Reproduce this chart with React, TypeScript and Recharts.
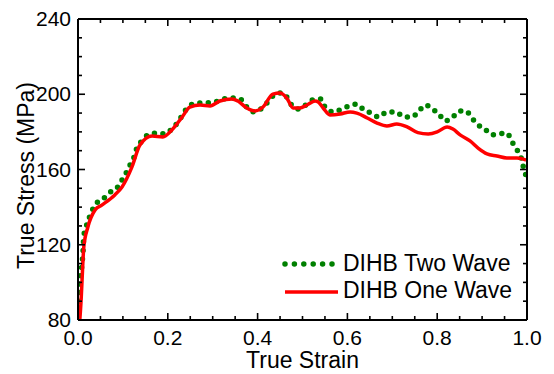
import { LineChart, Line, XAxis, YAxis, Legend } from "recharts";

// Curves (strain, MPa)
const oneWaveStrain = [
  0.004, 0.007, 0.009, 0.013, 0.022, 0.038, 0.053, 0.082, 0.098, 0.12, 0.138,
  0.165, 0.189, 0.209, 0.232, 0.249, 0.272, 0.294, 0.316, 0.343, 0.356, 0.376,
  0.394, 0.412, 0.434, 0.45, 0.465, 0.479, 0.494, 0.51, 0.528, 0.535, 0.546,
  0.561, 0.584, 0.606, 0.621, 0.644, 0.666, 0.688, 0.71, 0.733, 0.757, 0.78,
  0.8, 0.822, 0.835, 0.851, 0.873, 0.891, 0.911, 0.933, 0.955, 0.978, 0.998,
];
const oneWaveStress = [
  80, 91, 101, 119, 129.4, 138.5, 141.1, 146.5, 150.7, 161.3, 173, 177.8,
  177.3, 181, 187.9, 193.2, 194.3, 193.8, 196.4, 197.5, 196.4, 192.7, 191.1,
  193.2, 200.1, 200.7, 198, 192.7, 192.7, 194.3, 196.4, 195.9, 192.7, 189,
  189.5, 190.6, 190, 187.4, 184.7, 183.1, 184.2, 182.6, 179.6, 178.9, 180,
  182.6, 181.5, 178.4, 175.2, 171.4, 168.3, 167.2, 166.1, 166.1, 165,
];

const twoWaveStrain = [
  0.002, 0.004, 0.007, 0.009, 0.011, 0.013, 0.018, 0.024, 0.031, 0.04, 0.056,
  0.069, 0.087, 0.098, 0.107, 0.116, 0.125, 0.131, 0.14, 0.156, 0.176, 0.194,
  0.209, 0.223, 0.234, 0.245, 0.265, 0.285, 0.305, 0.323, 0.345, 0.361, 0.376,
  0.392, 0.41, 0.423, 0.437, 0.454, 0.468, 0.479, 0.492, 0.51, 0.523, 0.541,
  0.55, 0.568, 0.588, 0.604, 0.621, 0.637, 0.653, 0.67, 0.688, 0.708, 0.726,
  0.744, 0.759, 0.775, 0.788, 0.804, 0.817, 0.835, 0.849, 0.864, 0.877, 0.891,
  0.906, 0.922, 0.938, 0.955, 0.967, 0.978, 0.987, 0.992, 0.998,
];
const twoWaveStress = [
  90, 100.2, 105.5, 110.3, 115.6, 124.7, 129.4, 133.7, 137.9, 141.7, 144.3,
  147.5, 150.2, 154.4, 158.1, 162.4, 166.7, 171.4, 174.6, 178.4, 179.4, 178.9,
  181.5, 185.3, 189.5, 193.2, 195.4, 195.4, 195.9, 197.5, 198, 197.5, 193.2,
  190.6, 192.7, 195.9, 199.6, 200.7, 197.5, 193.2, 192.2, 194.8, 197, 197.5,
  193.2, 190.6, 192.2, 193.8, 194.8, 191.6, 190, 187.9, 190.6, 190.6, 187.9,
  187.9, 191.1, 194.3, 192.2, 189.5, 185.8, 187.9, 191.1, 191.1, 187.4, 183.7,
  181.5, 178.4, 178.9, 179.4, 174.6, 170.4, 166.1, 161.3, 156.6,
];

const xTicks = [
  0, 0.05, 0.1, 0.15, 0.2, 0.25, 0.3, 0.35, 0.4, 0.45, 0.5, 0.55, 0.6, 0.65,
  0.7, 0.75, 0.8, 0.85, 0.9, 0.95, 1.0,
];
const yTicks = [
  80, 90, 100, 110, 120, 130, 140, 150, 160, 170, 180, 190, 200, 210, 220, 230,
  240,
];

const oneWave = oneWaveStrain.map((x, i) => ({ x, y: oneWaveStress[i] }));
const twoWave = twoWaveStrain.map((x, i) => ({ x, y: twoWaveStress[i] }));

const FONT = "'Liberation Sans', Arial, sans-serif";
const GREEN = "#008000";
const RED = "#ff0000";

const isMajorX = (v: number) => Math.abs(v / 0.2 - Math.round(v / 0.2)) < 1e-6;
const isMajorY = (v: number) => v % 40 === 0;

// inward tick marks, labels only on the major ones
const BottomTick = (props: any) => {
  const x = Number(props.x);
  const y = Number(props.y);
  const v = props.payload.value;
  const major = isMajorX(v);
  return (
    <g>
      <line x1={x} x2={x} y1={y} y2={y - (major ? 7 : 4)} stroke="#000" strokeWidth={1.6} />
      {major && (
        <text x={x} y={y + 25} textAnchor="middle" fontSize={21} fontFamily={FONT} fill="#000">
          {v.toFixed(1)}
        </text>
      )}
    </g>
  );
};

const TopTick = (props: any) => {
  const x = Number(props.x);
  const y = Number(props.y);
  const major = isMajorX(props.payload.value);
  return <line x1={x} x2={x} y1={y} y2={y + (major ? 7 : 4)} stroke="#000" strokeWidth={1.6} />;
};

const LeftTick = (props: any) => {
  const x = Number(props.x);
  const y = Number(props.y);
  const v = props.payload.value;
  const major = isMajorY(v);
  return (
    <g>
      <line x1={x} x2={x + (major ? 7 : 4)} y1={y} y2={y} stroke="#000" strokeWidth={1.6} />
      {major && (
        <text x={x - 7} y={y + 7} textAnchor="end" fontSize={21} fontFamily={FONT} fill="#000">
          {v}
        </text>
      )}
    </g>
  );
};

const RightTick = (props: any) => {
  const x = Number(props.x);
  const y = Number(props.y);
  const major = isMajorY(props.payload.value);
  return <line x1={x} x2={x - (major ? 7 : 4)} y1={y} y2={y} stroke="#000" strokeWidth={1.6} />;
};

const YTitle = ({ viewBox }: any) => {
  const cx = 26;
  const cy = viewBox.y + viewBox.height / 2 + 6;
  return (
    <text
      x={cx}
      y={cy}
      transform={`rotate(-90 ${cx} ${cy})`}
      textAnchor="middle"
      dominantBaseline="central"
      fontSize={23}
      fontFamily={FONT}
      fill="#000"
    >
      True Stress (MPa)
    </text>
  );
};

function LegendBox() {
  return (
    <svg width={250} height={60}>
      <line
        x1={5}
        x2={52}
        y1={14}
        y2={14}
        stroke={GREEN}
        strokeWidth={5.5}
        strokeDasharray="0 9.4"
        strokeLinecap="round"
      />
      <text x={63} y={21} fontSize={23} fontFamily={FONT} fill="#000">
        DIHB Two Wave
      </text>
      <line x1={5} x2={58} y1={42} y2={42} stroke={RED} strokeWidth={3.5} />
      <text x={63} y={48} fontSize={23} fontFamily={FONT} fill="#000">
        DIHB One Wave
      </text>
    </svg>
  );
}

export default function App() {
  const axisLine = { stroke: "#000", strokeWidth: 2 };
  return (
    <div style={{ position: "absolute", left: 0, top: 0, background: "#fff" }}>
      <LineChart
        width={554}
        height={374}
        margin={{ top: 18, right: 26, left: 0, bottom: 0 }}
      >
        <XAxis
          xAxisId="b"
          type="number"
          dataKey="x"
          domain={[0, 1]}
          ticks={xTicks}
          interval={0}
          height={54}
          tickSize={0}
          tickMargin={0}
          tickLine={false}
          axisLine={axisLine}
          tick={BottomTick}
          allowDataOverflow
          label={{
            value: "True Strain",
            position: "insideBottom",
            offset: 6,
            fontSize: 23,
            fontFamily: FONT,
            fill: "#000",
          }}
        />
        <XAxis
          xAxisId="t"
          orientation="top"
          type="number"
          dataKey="x"
          domain={[0, 1]}
          ticks={xTicks}
          interval={0}
          height={1}
          tickSize={0}
          tickMargin={0}
          tickLine={false}
          axisLine={axisLine}
          tick={TopTick}
          allowDataOverflow
        />
        <YAxis
          yAxisId="l"
          type="number"
          dataKey="y"
          domain={[80, 240]}
          ticks={yTicks}
          interval={0}
          width={78}
          tickSize={0}
          tickMargin={0}
          tickLine={false}
          axisLine={axisLine}
          tick={LeftTick}
          allowDataOverflow
          label={{ content: YTitle }}
        />
        <YAxis
          yAxisId="r"
          orientation="right"
          type="number"
          dataKey="y"
          domain={[80, 240]}
          ticks={yTicks}
          interval={0}
          width={1}
          tickSize={0}
          tickMargin={0}
          tickLine={false}
          axisLine={axisLine}
          tick={RightTick}
          allowDataOverflow
        />
        <Legend
          layout="vertical"
          align="center"
          verticalAlign="middle"
          wrapperStyle={{ left: 280, top: 250, width: 250, height: 60 }}
          content={() => <LegendBox />}
        />
        {/* invisible copy so the mirrored top/right axes have a series */}
        <Line
          data={oneWave}
          dataKey="y"
          xAxisId="t"
          yAxisId="r"
          stroke="none"
          dot={false}
          activeDot={false}
          legendType="none"
          isAnimationActive={false}
        />
        <Line
          data={twoWave}
          dataKey="y"
          xAxisId="b"
          yAxisId="l"
          type="monotone"
          stroke={GREEN}
          strokeWidth={5.5}
          strokeDasharray="0 8.5"
          strokeLinecap="round"
          dot={false}
          activeDot={false}
          isAnimationActive={false}
        />
        <Line
          data={oneWave}
          dataKey="y"
          xAxisId="b"
          yAxisId="l"
          type="monotone"
          stroke={RED}
          strokeWidth={3.5}
          dot={false}
          activeDot={false}
          isAnimationActive={false}
        />
      </LineChart>
    </div>
  );
}
